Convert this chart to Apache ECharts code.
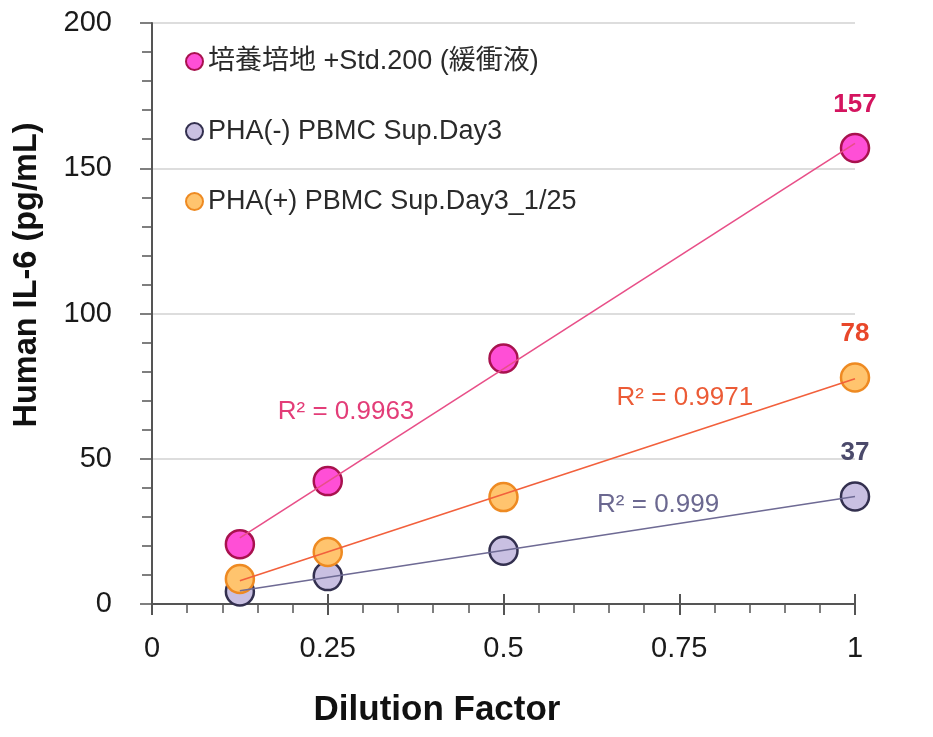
<!DOCTYPE html>
<html>
<head>
<meta charset="utf-8">
<script src="https://cdn.jsdelivr.net/npm/echarts@6/dist/echarts.min.js"></script>
<style>
html,body{margin:0;padding:0;background:#fff;}
#chart{width:933px;height:737px;}
</style>
</head>
<body>
<div id="chart"></div>
<script>
// ---- data ----
const dilution = [0.125, 0.25, 0.5, 1];
const seriesNames = ['培養培地 +Std.200 (緩衝液)', 'PHA(-) PBMC Sup.Day3', 'PHA(+) PBMC Sup.Day3_1/25'];
const mediumStd = [20.6, 42.3, 84.5, 157];
const phaMinus = [4.3, 9.6, 18.3, 37];
const phaPlus = [8.6, 17.9, 36.8, 78];
const r2Texts = ['R² = 0.9963', 'R² = 0.999', 'R² = 0.9971'];
// annotation anchor positions in data units [x, y]
const r2Pos = [[0.276, 66], [0.72, 34], [0.758, 71]];
const xTicks = [0, 0.25, 0.5, 0.75, 1];

const FONT = "'Liberation Sans', Arial, 'Noto Sans CJK JP', sans-serif";
const styles = [
  {fill:'#ff4fd6', border:'#a8124e', line:'#e84f88', label:'#d4145f', r2:'#e33d78'},
  {fill:'#c9c0e2', border:'#33304f', line:'#6e6a94', label:'#4b4a6b', r2:'#6b6890'},
  {fill:'#ffc46e', border:'#ee8a22', line:'#f2603c', label:'#e8472a', r2:'#ec5b36'}
];
const allValues = [mediumStd, phaMinus, phaPlus];

function regression(xs, ys){
  const n = xs.length;
  const mx = xs.reduce((a,b)=>a+b,0)/n, my = ys.reduce((a,b)=>a+b,0)/n;
  let sxx=0, sxy=0;
  for(let i=0;i<n;i++){sxx+=(xs[i]-mx)**2; sxy+=(xs[i]-mx)*(ys[i]-my);}
  const b = sxy/sxx, a = my-b*mx;
  const x0 = Math.min(...xs), x1 = Math.max(...xs);
  return [[x0, a+b*x0],[x1, a+b*x1]];
}

const series = [];
allValues.forEach((vals, i) => {
  const st = styles[i];
  series.push({
    name: seriesNames[i],
    type: 'scatter',
    symbol: 'circle',
    symbolSize: 28,
    z: 2 + i*0.1,
    itemStyle: {color: st.fill, borderColor: st.border, borderWidth: 2.5, opacity: 1},
    data: dilution.map((x, j) => {
      const d = {value: [x, vals[j]]};
      if (j === dilution.length - 1) {
        d.label = {show: true, position: 'top', distance: 15,
          formatter: p => String(p.value[1]),
          fontFamily: FONT, fontWeight: 'bold', fontSize: 26, color: st.label};
      }
      return d;
    })
  });
});
allValues.forEach((vals, i) => {
  const st = styles[i];
  series.push({
    name: seriesNames[i] + ' trend',
    type: 'line',
    silent: true,
    z: 5,
    symbol: 'none',
    lineStyle: {color: st.line, width: 1.6},
    data: regression(dilution, vals),
    markPoint: {
      symbol: 'circle', symbolSize: 0, silent: true,
      data: [{coord: r2Pos[i], value: r2Texts[i],
        label: {show: true, position: 'inside', formatter: r2Texts[i],
          fontFamily: FONT, fontSize: 26, color: st.r2}}]
    }
  });
});

const chart = echarts.init(document.getElementById('chart'), null, {renderer: 'canvas'});
chart.setOption({
  animation: false,
  backgroundColor: '#ffffff',
  grid: {left: 152, right: 78, top: 23, bottom: 133, containLabel: false},
  legend: {
    data: seriesNames,
    orient: 'vertical',
    left: 185, top: 48,
    padding: 0,
    itemGap: 43,
    itemWidth: 17, itemHeight: 17,
    icon: 'circle',
    textStyle: {fontFamily: FONT, fontSize: 27, color: '#2a2a2a'}
  },
  xAxis: [{
    type: 'value', min: 0, max: 1, interval: 0.25,
    axisLine: {show: true, lineStyle: {color: '#555', width: 2}},
    axisTick: {show: true, length: 11, lineStyle: {color: '#555', width: 2}},
    minorTick: {show: true, splitNumber: 5, length: 9, lineStyle: {color: '#555', width: 1.5}},
    splitLine: {show: false},
    axisLabel: {fontFamily: FONT, fontSize: 29, color: '#1a1a1a', margin: 30,
      formatter: v => String(v)}
  }, {
    type: 'value', min: 0, max: 1, interval: 0.25, position: 'bottom',
    axisLine: {show: false},
    axisTick: {show: true, inside: true, length: 10, lineStyle: {color: '#555', width: 2}},
    axisLabel: {show: false},
    splitLine: {show: false}
  }],
  yAxis: {
    type: 'value', min: 0, max: 200, interval: 50,
    axisLine: {show: true, lineStyle: {color: '#555', width: 2}},
    axisTick: {show: true, length: 12, lineStyle: {color: '#555', width: 1.5}},
    minorTick: {show: true, splitNumber: 5, length: 10, lineStyle: {color: '#555', width: 1.5}},
    splitLine: {show: true, lineStyle: {color: '#d2d2d2', width: 1.5}},
    axisLabel: {fontFamily: FONT, fontSize: 29, color: '#1a1a1a', margin: 40}
  },
  graphic: [
    {type: 'text', x: 437, y: 710,
      style: {text: 'Dilution Factor', fontFamily: FONT, fontWeight: 'bold', fontSize: 35,
        fill: '#111', textAlign: 'center', textVerticalAlign: 'middle'}},
    {type: 'text', x: 27, y: 275, rotation: Math.PI/2,
      style: {text: 'Human IL-6 (pg/mL)', fontFamily: FONT, fontWeight: 'bold', fontSize: 32.5,
        fill: '#111', textAlign: 'center', textVerticalAlign: 'middle'}}
  ],
  series: series
});
</script>
</body>
</html>
